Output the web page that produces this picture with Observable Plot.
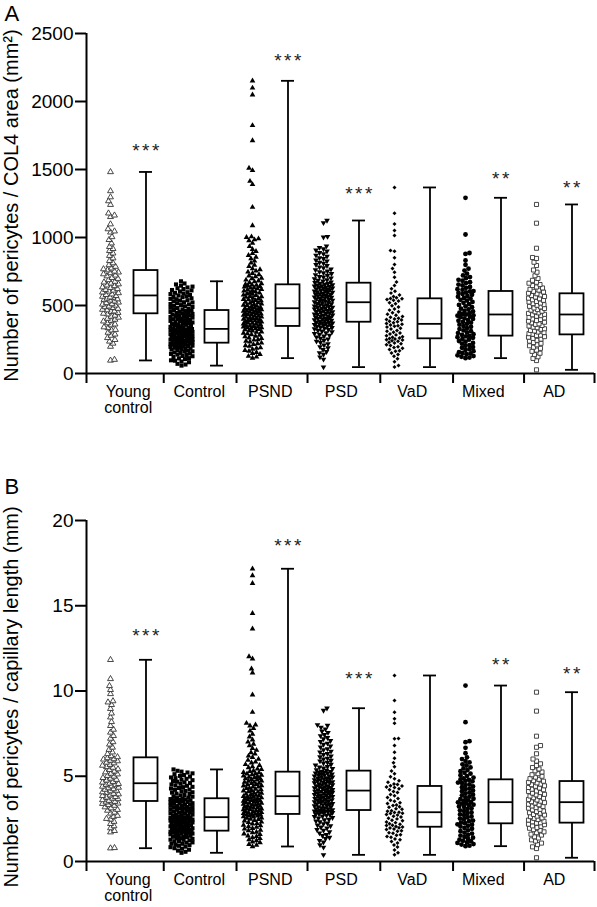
<!DOCTYPE html>
<html>
<head>
<meta charset="utf-8">
<script src="https://cdn.jsdelivr.net/npm/d3@7"></script>
<script src="https://cdn.jsdelivr.net/npm/@observablehq/plot@0.6"></script>
<style>
  html, body { margin: 0; padding: 0; background: #fff; }
  body { width: 597px; height: 907px; overflow: hidden; }
  #chart svg { display: block; }
</style>
</head>
<body>
<div id="chart"></div>
<script>
// ---------- categories ----------
const groups = ["Young\ncontrol", "Control", "PSND", "PSD", "VaD", "Mixed", "AD"];

// ---------- Panel A : pericytes / COL4 area (mm²) ----------
const yTicksA = [0, 500, 1000, 1500, 2000, 2500];
const ycA = [96, 102, 198, 221, 236, 248, 262, 279, 288, 301, 318, 322, 335, 341, 356, 362, 371, 384, 389, 397, 404, 412, 419, 427, 436,
  441, 447, 455, 458, 466, 470, 477, 483, 489, 494, 501, 508, 511, 519, 523, 531, 538, 543, 547, 552, 558, 561, 566, 571,
  579, 583, 592, 597, 604, 611, 616, 622, 631, 635, 644, 649, 657, 663, 671, 676, 688, 697, 704, 716, 722, 731, 739, 744, 751,
  760, 768, 774, 786, 798, 812, 829, 848, 866, 884, 902, 917, 932, 958, 983, 1004, 1038, 1046, 1062, 1098, 1152, 1163, 1178, 1241, 1268, 1297, 1342, 1482];
const controlA = [58, 66, 71, 83, 88, 94, 97, 106, 111, 113, 121, 127, 129, 136, 139, 144, 147, 152, 155, 161, 163, 168, 171, 176, 179, 183, 186, 189, 191, 196, 199, 202, 205, 208, 211, 213, 216, 218, 220, 222,
  225, 226, 230, 233, 234, 238, 241, 242, 246, 249, 250, 254, 257, 258, 262, 265, 266, 270, 273, 276, 278, 281, 282, 286, 289, 290, 294, 297, 298, 302, 305, 306, 310, 313, 316, 318, 319, 323, 324, 327,
  331, 334, 336, 341, 343, 348, 349, 353, 358, 360, 363, 368, 370, 375, 377, 382, 385, 387, 392, 394, 399, 400, 404, 409, 411, 416, 417, 421, 426, 428, 433, 434, 438, 443, 445, 448, 453, 454, 459, 462,
  467, 471, 474, 481, 483, 489, 494, 497, 503, 508, 511, 517, 522, 524, 531, 536, 539, 546, 549, 553, 561, 563, 568, 574, 577, 584, 588, 593, 598, 603, 611, 614, 621, 627, 633, 639, 646, 655, 662, 678];
const psndA = [113, 122, 127, 141, 148, 156, 164, 170, 179, 186, 190, 201, 205, 214, 220, 225, 233, 239, 247, 250, 259, 262, 271, 275, 282, 286, 293, 297, 304, 306, 313, 315, 322, 324, 330, 332, 337, 338, 343, 345,
  347, 353, 354, 360, 363, 365, 371, 372, 377, 380, 382, 388, 389, 394, 397, 399, 405, 406, 411, 414, 416, 422, 423, 429, 432, 433, 439, 442, 443, 449, 452, 454, 459, 462, 464, 469, 470, 475, 477, 479,
  483, 487, 492, 495, 501, 503, 509, 512, 517, 522, 524, 530, 535, 537, 544, 546, 553, 555, 561, 566, 568, 575, 578, 584, 586, 593, 595, 602, 607, 609, 615, 618, 624, 629, 631, 637, 640, 645, 649, 651,
  656, 661, 669, 675, 682, 688, 698, 702, 713, 718, 728, 737, 747, 754, 764, 771, 787, 797, 813, 828, 844, 856, 869, 883, 898, 913, 934, 958, 977, 984, 991, 1001, 1006, 1088, 1223, 1390, 1414, 1493, 1510, 1713, 1824, 2049, 2100, 2152];
const psdA = [47, 104, 121, 140, 152, 160, 175, 188, 196, 209, 218, 228, 237, 244, 253, 259, 268, 274, 281, 287, 294, 299, 306, 311, 317, 322, 328, 332, 337, 341, 346, 349, 353, 357, 360, 364, 367, 370, 373, 376,
  378, 384, 386, 390, 394, 397, 402, 404, 408, 412, 415, 420, 421, 427, 429, 434, 436, 441, 445, 447, 453, 454, 460, 462, 467, 469, 474, 478, 480, 486, 487, 493, 496, 498, 504, 505, 511, 513, 519, 521,
  526, 531, 533, 538, 540, 545, 549, 550, 556, 559, 562, 566, 569, 571, 576, 580, 583, 585, 590, 594, 597, 600, 605, 607, 611, 615, 616, 622, 625, 628, 632, 633, 639, 642, 644, 649, 651, 656, 660, 662,
  668, 671, 679, 684, 689, 696, 701, 709, 712, 721, 726, 734, 739, 748, 752, 762, 767, 777, 783, 793, 800, 810, 817, 827, 833, 844, 851, 862, 869, 880, 888, 899, 907, 916, 926, 937, 1002, 1007, 1108, 1125];
const vadA = [47, 58, 86, 108, 127, 139, 151, 163, 168, 177, 186, 191, 197, 206, 211, 219, 224, 229, 237, 241, 246, 249, 253, 257, 261, 267, 270, 278, 284, 291,
  297, 304, 311, 317, 327, 333, 341, 347, 351, 356, 362, 367, 373, 381, 385, 393, 397, 401, 406, 413, 419, 429, 435, 446, 454, 466, 475, 489, 498, 513,
  521, 533, 539, 545, 549, 552, 557, 567, 577, 591, 604, 623, 647, 673, 708, 745, 772, 801, 851, 899, 904, 1015, 1051, 1100, 1179, 1368];
const mixedA = [113, 117, 123, 128, 134, 142, 147, 151, 157, 164, 173, 179, 189, 194, 204, 209, 219, 225, 234, 239, 249, 254, 263, 267, 273, 276, 284, 289, 297, 302,
  311, 317, 327, 333, 343, 349, 359, 365, 374, 379, 388, 393, 401, 406, 414, 418, 425, 428, 434, 436, 443, 447, 456, 461, 471, 477, 488, 494, 504, 510,
  520, 526, 536, 542, 551, 556, 565, 570, 579, 584, 592, 596, 603, 606, 615, 620, 630, 636, 647, 654, 665, 671, 682, 689, 701, 709, 721, 734, 757, 771, 799, 831, 880, 886, 1022, 1292];
const adA = [27, 95, 111, 123, 139, 149, 163, 172, 185, 193, 204, 211, 222, 228, 238, 244, 253, 258, 267, 271, 279, 282, 289, 293, 301, 305, 313, 317, 325, 329,
  337, 341, 349, 353, 361, 365, 373, 377, 385, 389, 397, 401, 409, 413, 421, 425, 432, 435, 442, 446, 454, 458, 466, 470, 478, 482, 490, 494, 502, 506,
  514, 518, 526, 530, 538, 542, 550, 554, 562, 566, 574, 578, 586, 590, 599, 604, 613, 619, 629, 636, 647, 654, 664, 671, 685, 699, 719, 745, 761, 794, 818, 846, 853, 921, 1105, 1243];
const minA = [96, 58, 113, 47, 47, 113, 27];
const q1A = [439, 223, 346, 377, 255, 275, 284];
const medA = [574, 328, 480, 524, 365, 434, 434];
const q3A = [757, 463, 652, 664, 549, 603, 586];
const maxA = [1482, 678, 2152, 1125, 1368, 1292, 1243];
const starsA = ["***", "", "***", "***", "", "**", "**"];
const starYA = [1676, null, 2338, 1360, null, 1470, 1404];

// ---------- Panel B : pericytes / capillary length (mm) ----------
const yTicksB = [0, 5, 10, 15, 20];
const ycB = [0.78, 0.8, 1.72, 1.8, 1.96, 2.08, 2.21, 2.34, 2.47, 2.51, 2.63, 2.69, 2.82, 2.88, 2.99, 3.04, 3.13, 3.19, 3.28, 3.32, 3.39, 3.41, 3.47, 3.48, 3.51,
  3.57, 3.61, 3.67, 3.7, 3.76, 3.79, 3.85, 3.89, 3.95, 3.98, 4.04, 4.07, 4.13, 4.16, 4.22, 4.25, 4.31, 4.34, 4.4, 4.42, 4.49, 4.51, 4.56, 4.58,
  4.64, 4.68, 4.76, 4.8, 4.87, 4.91, 4.99, 5.03, 5.12, 5.16, 5.24, 5.29, 5.38, 5.42, 5.51, 5.55, 5.63, 5.68, 5.77, 5.81, 5.89, 5.92, 5.99, 6.01, 6.07,
  6.13, 6.19, 6.31, 6.41, 6.56, 6.69, 6.87, 7.01, 7.21, 7.37, 7.57, 7.74, 7.96, 8.19, 8.46, 8.69, 8.96, 9.19, 9.34, 9.41, 9.83, 10.07, 10.3, 10.71, 11.83];
const controlB = [0.51, 0.57, 0.64, 0.69, 0.75, 0.78, 0.84, 0.87, 0.92, 0.96, 0.98, 1.04, 1.05, 1.11, 1.12, 1.18, 1.19, 1.24, 1.27, 1.28, 1.33, 1.36, 1.37, 1.42, 1.45, 1.46, 1.51, 1.53, 1.54, 1.59, 1.61, 1.63, 1.64, 1.68, 1.7, 1.71, 1.74, 1.75, 1.76, 1.77,
  1.81, 1.82, 1.85, 1.87, 1.88, 1.91, 1.93, 1.95, 1.96, 2.0, 2.01, 2.04, 2.06, 2.08, 2.1, 2.12, 2.14, 2.15, 2.19, 2.2, 2.23, 2.25, 2.27, 2.29, 2.31, 2.33, 2.34, 2.38, 2.4, 2.42, 2.44, 2.46, 2.48, 2.5, 2.52, 2.53, 2.56, 2.57, 2.58, 2.59,
  2.62, 2.67, 2.68, 2.72, 2.75, 2.76, 2.81, 2.83, 2.86, 2.87, 2.92, 2.94, 2.97, 2.98, 3.03, 3.05, 3.08, 3.11, 3.12, 3.16, 3.19, 3.2, 3.25, 3.27, 3.28, 3.33, 3.34, 3.38, 3.41, 3.42, 3.47, 3.49, 3.52, 3.53, 3.58, 3.6, 3.61, 3.64, 3.66, 3.67,
  3.72, 3.74, 3.8, 3.82, 3.88, 3.9, 3.96, 3.98, 4.04, 4.06, 4.12, 4.14, 4.2, 4.22, 4.28, 4.31, 4.36, 4.38, 4.44, 4.46, 4.52, 4.56, 4.6, 4.64, 4.68, 4.72, 4.77, 4.8, 4.85, 4.89, 4.93, 4.98, 5.02, 5.07, 5.12, 5.17, 5.22, 5.27, 5.32, 5.4];
const psndB = [0.88, 0.96, 1.01, 1.11, 1.15, 1.23, 1.28, 1.35, 1.4, 1.47, 1.51, 1.59, 1.62, 1.7, 1.73, 1.81, 1.84, 1.91, 1.95, 2.01, 2.05, 2.11, 2.14, 2.21, 2.23, 2.3, 2.32, 2.39, 2.41, 2.47, 2.49, 2.55, 2.56, 2.62, 2.63, 2.68, 2.69, 2.73, 2.74, 2.75,
  2.78, 2.82, 2.83, 2.87, 2.88, 2.93, 2.94, 2.98, 2.99, 3.04, 3.05, 3.09, 3.1, 3.15, 3.16, 3.2, 3.21, 3.25, 3.27, 3.31, 3.32, 3.36, 3.37, 3.42, 3.43, 3.47, 3.48, 3.53, 3.54, 3.58, 3.59, 3.63, 3.64, 3.69, 3.7, 3.74, 3.75, 3.79, 3.8, 3.82,
  3.87, 3.89, 3.94, 3.96, 4.01, 4.03, 4.08, 4.1, 4.15, 4.17, 4.22, 4.24, 4.29, 4.31, 4.37, 4.38, 4.44, 4.45, 4.51, 4.52, 4.58, 4.59, 4.65, 4.66, 4.72, 4.73, 4.79, 4.81, 4.86, 4.88, 4.93, 4.95, 5.0, 5.02, 5.07, 5.09, 5.14, 5.16, 5.21, 5.23,
  5.29, 5.32, 5.4, 5.43, 5.51, 5.56, 5.64, 5.69, 5.79, 5.84, 5.94, 6.01, 6.11, 6.19, 6.31, 6.39, 6.53, 6.63, 6.79, 6.89, 7.01, 7.14, 7.31, 7.47, 7.66, 7.81, 7.96, 8.02, 8.11, 8.76, 9.78, 11.07, 11.3, 11.89, 12.02, 13.65, 14.56, 16.32, 16.77, 17.17];
const psdB = [0.39, 0.83, 0.97, 1.13, 1.23, 1.34, 1.41, 1.51, 1.57, 1.67, 1.73, 1.82, 1.87, 1.96, 2.01, 2.09, 2.13, 2.21, 2.25, 2.33, 2.37, 2.44, 2.47, 2.54, 2.57, 2.63, 2.65, 2.71, 2.73, 2.79, 2.8, 2.85, 2.86, 2.91, 2.92, 2.94, 2.95, 2.96, 2.97, 2.98,
  3.02, 3.03, 3.08, 3.09, 3.14, 3.15, 3.2, 3.21, 3.26, 3.27, 3.32, 3.33, 3.38, 3.39, 3.44, 3.45, 3.5, 3.51, 3.56, 3.57, 3.62, 3.63, 3.68, 3.69, 3.74, 3.75, 3.8, 3.81, 3.86, 3.87, 3.92, 3.93, 3.98, 3.99, 4.04, 4.05, 4.1, 4.11, 4.13, 4.15,
  4.2, 4.21, 4.26, 4.27, 4.32, 4.33, 4.37, 4.38, 4.43, 4.44, 4.49, 4.5, 4.55, 4.56, 4.61, 4.62, 4.66, 4.67, 4.72, 4.73, 4.78, 4.79, 4.83, 4.84, 4.89, 4.9, 4.95, 4.96, 5.01, 5.02, 5.07, 5.08, 5.12, 5.13, 5.18, 5.19, 5.23, 5.24, 5.27, 5.29,
  5.34, 5.37, 5.44, 5.47, 5.54, 5.57, 5.65, 5.69, 5.77, 5.81, 5.89, 5.93, 6.01, 6.05, 6.13, 6.18, 6.27, 6.32, 6.41, 6.46, 6.55, 6.61, 6.71, 6.77, 6.87, 6.93, 7.03, 7.09, 7.19, 7.26, 7.37, 7.44, 7.56, 7.64, 7.77, 7.87, 7.98, 8.02, 8.86, 8.99];
const vadB = [0.39, 0.51, 0.67, 0.85, 0.97, 1.09, 1.17, 1.28, 1.32, 1.42, 1.47, 1.54, 1.57, 1.66, 1.69, 1.77, 1.8, 1.87, 1.9, 1.96, 1.98, 2.03, 2.05, 2.11, 2.12, 2.19, 2.21, 2.28, 2.31, 2.39,
  2.42, 2.5, 2.54, 2.61, 2.65, 2.72, 2.75, 2.81, 2.83, 2.88, 2.89, 2.95, 2.98, 3.06, 3.1, 3.18, 3.21, 3.28, 3.32, 3.4, 3.45, 3.54, 3.59, 3.69, 3.75, 3.86, 3.93, 4.04, 4.11, 4.21,
  4.26, 4.34, 4.37, 4.43, 4.45, 4.51, 4.55, 4.65, 4.73, 4.86, 4.97, 5.15, 5.31, 5.56, 5.79, 6.06, 6.41, 6.8, 7.2, 7.22, 8.11, 8.37, 8.76, 9.44, 10.91];
const mixedB = [0.9, 0.93, 0.99, 1.02, 1.09, 1.12, 1.19, 1.21, 1.28, 1.32, 1.4, 1.44, 1.52, 1.56, 1.64, 1.69, 1.78, 1.83, 1.92, 1.97, 2.05, 2.09, 2.16, 2.18, 2.25, 2.28, 2.36, 2.4, 2.48, 2.52,
  2.6, 2.64, 2.72, 2.76, 2.84, 2.88, 2.96, 3.0, 3.08, 3.12, 3.2, 3.23, 3.3, 3.33, 3.39, 3.41, 3.47, 3.49, 3.55, 3.58, 3.65, 3.68, 3.76, 3.8, 3.88, 3.92, 4.0, 4.04, 4.12, 4.16,
  4.24, 4.28, 4.36, 4.4, 4.48, 4.52, 4.6, 4.63, 4.7, 4.73, 4.79, 4.81, 4.88, 4.92, 5.01, 5.06, 5.15, 5.2, 5.3, 5.36, 5.46, 5.52, 5.63, 5.7, 5.81, 5.89, 6.01, 6.11, 6.35, 6.67, 7.0, 7.06, 8.17, 10.32];
const adB = [0.22, 0.76, 0.86, 0.99, 1.08, 1.2, 1.27, 1.38, 1.45, 1.55, 1.6, 1.69, 1.74, 1.83, 1.87, 1.95, 1.99, 2.06, 2.09, 2.16, 2.19, 2.25, 2.27, 2.33, 2.36, 2.43, 2.46, 2.53, 2.56, 2.63,
  2.66, 2.73, 2.76, 2.83, 2.86, 2.93, 2.96, 3.03, 3.06, 3.13, 3.16, 3.23, 3.26, 3.33, 3.36, 3.43, 3.45, 3.51, 3.54, 3.61, 3.64, 3.71, 3.74, 3.81, 3.84, 3.91, 3.94, 4.01, 4.04, 4.11,
  4.14, 4.21, 4.24, 4.31, 4.34, 4.41, 4.44, 4.51, 4.54, 4.61, 4.64, 4.71, 4.74, 4.82, 4.86, 4.95, 5.0, 5.09, 5.15, 5.25, 5.32, 5.43, 5.51, 5.63, 5.73, 5.89, 6.01, 6.32, 6.7, 6.8, 7.35, 8.82, 9.93];
const minB = [0.78, 0.51, 0.88, 0.39, 0.39, 0.9, 0.22];
const q1B = [3.52, 1.78, 2.76, 2.99, 2.01, 2.21, 2.25];
const medB = [4.59, 2.6, 3.83, 4.16, 2.89, 3.48, 3.48];
const q3B = [6.08, 3.68, 5.24, 5.3, 4.4, 4.79, 4.69];
const maxB = [11.83, 5.4, 17.17, 8.99, 10.91, 10.32, 9.93];
const starsB = ["***", "", "***", "***", "", "**", "**"];
const starYB = [13.5, null, 18.8, 11.0, null, 11.85, 11.3];

// ---------- layout helpers ----------
const W = 597, ML = 86, MR = 3;
const xDomain = [-0.676, 13.634];
const pxPerX = (W - ML - MR) / (xDomain[1] - xDomain[0]);
const groupEdges = [xDomain[0], 1.5, 3.55, 5.55, 7.6, 9.65, 11.65, xDomain[1]];
const groupCenters = groups.map((_, i) => 2 * i + 0.5);

// custom downward triangle symbol
const triangleDown = {
  draw(context, size) {
    const s3 = Math.sqrt(3);
    const y = -Math.sqrt(size / (s3 * 3));
    context.moveTo(0, -y * 2);
    context.lineTo(-s3 * y, y);
    context.lineTo(s3 * y, y);
    context.closePath();
  }
};
const markerStyle = [
  {symbol: "triangle", r: 2.2, fill: "white", stroke: "#333", strokeWidth: 0.9, half: 8},
  {symbol: "square", r: 2.3, fill: "black", stroke: "none", strokeWidth: 0, half: 11},
  {symbol: "triangle", r: 2.1, fill: "black", stroke: "none", strokeWidth: 0, half: 9},
  {symbol: triangleDown, r: 2.1, fill: "black", stroke: "none", strokeWidth: 0, half: 9},
  {symbol: "diamond2", r: 1.8, fill: "black", stroke: "none", strokeWidth: 0, half: 8},
  {symbol: "circle", r: 2.4, fill: "black", stroke: "none", strokeWidth: 0, half: 8},
  {symbol: "square", r: 2.3, fill: "white", stroke: "#333", strokeWidth: 0.9, half: 8}
];

// deterministic beeswarm offsets (pixels)
function swarm(values, pxPerY, d, halfW) {
  const order = d3.range(values.length).sort((a, b) => values[a] - values[b]);
  const placed = [];
  const off = new Array(values.length).fill(0);
  const steps = [0];
  for (let s = 0.5; s <= halfW + 1e-9; s += 0.5) steps.push(s, -s);
  let n = 0;
  for (const i of order) {
    const y = values[i] * pxPerY;
    const sg = (n++ % 2) ? 1 : -1;
    const near = [];
    for (let k = placed.length - 1; k >= 0 && y - placed[k].y < d; k--) near.push(placed[k]);
    let best = 0, bestD = -1;
    for (const st of steps) {
      const c = st * sg;
      let m = Infinity;
      for (const q of near) { const dd = Math.hypot(c - q.x, y - q.y); if (dd < m) m = dd; }
      if (m >= d) { best = c; bestD = m; break; }
      if (m > bestD) { bestD = m; best = c; }
    }
    off[i] = best;
    placed.push({x: best, y});
  }
  return off;
}

function panel(cfg) {
  const {letter, yLabel, yTicks, ymax, series, mins, q1s, meds, q3s, maxs, stars, starY,
         height, marginTop, marginBottom, letterDy, labelDy} = cfg;
  const pxPerY = (height - marginTop - marginBottom) / ymax;
  const boxes = groups.map((g, i) => ({pos: 2 * i + 1, min: mins[i], q1: q1s[i], med: meds[i], q3: q3s[i], max: maxs[i]}));
  const starRows = groups.map((g, i) => ({x: 2 * i + 1, y: starY[i], s: stars[i]})).filter(d => d.s);
  const bw = 12 / pxPerX, cw = 6.5 / pxPerX;

  const dotMarks = series.map((vals, gi) => {
    const st = markerStyle[gi];
    const off = swarm(vals, pxPerY, 4.0, st.half);
    const rows = vals.map((v, j) => ({x: 2 * gi + off[j] / pxPerX, v}));
    return Plot.dot(rows, {x: "x", y: "v", symbol: st.symbol, r: st.r, fill: st.fill,
      stroke: st.stroke, strokeWidth: st.strokeWidth});
  });

  const svg = Plot.plot({
    width: W, height, marginTop, marginBottom, marginLeft: ML, marginRight: MR,
    style: {fontFamily: "'Liberation Sans', Arial, sans-serif", color: "black", background: "white"},
    x: {type: "linear", domain: xDomain},
    y: {domain: [0, ymax]},
    marks: [
      ...dotMarks,
      // whiskers
      Plot.ruleX(boxes, {x: "pos", y1: "q3", y2: "max", stroke: "black", strokeWidth: 1.8}),
      Plot.ruleX(boxes, {x: "pos", y1: "min", y2: "q1", stroke: "black", strokeWidth: 1.8}),
      Plot.ruleY(boxes, {y: "max", x1: d => d.pos - cw, x2: d => d.pos + cw, stroke: "black", strokeWidth: 1.8}),
      Plot.ruleY(boxes, {y: "min", x1: d => d.pos - cw, x2: d => d.pos + cw, stroke: "black", strokeWidth: 1.8}),
      // box
      Plot.rect(boxes, {x1: d => d.pos - bw, x2: d => d.pos + bw, y1: "q1", y2: "q3", fill: "white", stroke: "black", strokeWidth: 1.8}),
      Plot.ruleY(boxes, {y: "med", x1: d => d.pos - bw, x2: d => d.pos + bw, stroke: "black", strokeWidth: 1.8}),
      // significance
      Plot.text(starRows, {x: "x", y: "y", text: "s", fontSize: 19, textAnchor: "middle", lineAnchor: "middle", dy: 5, dx: 1, fill: "#222"}),
      // axes
      Plot.axisY({ticks: yTicks, tickSize: 11, tickPadding: 2, fontSize: 19, strokeWidth: 2, label: null, tickFormat: d => String(d)}),
      Plot.ruleX([xDomain[0]], {stroke: "black", strokeWidth: 2}),
      Plot.ruleY([0], {stroke: "black", strokeWidth: 2}),
      Plot.axisX({ticks: groupEdges, tickSize: 10, tickFormat: () => "", strokeWidth: 2, label: null}),
      Plot.axisX({ticks: groupCenters, tickSize: 0, tickPadding: 12, fontSize: 16, label: null,
        tickFormat: d => groups[Math.round((d - 0.5) / 2)]}),
      // y label
      Plot.text([yLabel], {text: d => d, frameAnchor: "left", rotate: -90, fontSize: 20, dx: -75, dy: labelDy,
        textAnchor: "middle", lineAnchor: "middle"}),
      // panel letter
      Plot.text([letter], {text: d => d, frameAnchor: "top-left", dx: -82, dy: letterDy, fontSize: 22,
        textAnchor: "start", lineAnchor: "bottom"})
    ]
  });
  // widen the spacing between significance asterisks
  d3.select(svg).selectAll("text").filter(function () { return /^\*+$/.test(this.textContent); })
    .attr("letter-spacing", "2.5px");
  return svg;
}

const chart = document.getElementById("chart");
chart.append(panel({
  letter: "A", yLabel: "Number of pericytes / COL4 area (mm²)", yTicks: yTicksA, ymax: 2500,
  series: [ycA, controlA, psndA, psdA, vadA, mixedA, adA],
  mins: minA, q1s: q1A, meds: medA, q3s: q3A, maxs: maxA, stars: starsA, starY: starYA,
  height: 440, marginTop: 33, marginBottom: 67, letterDy: -13, labelDy: 2
}));
chart.append(panel({
  letter: "B", yLabel: "Number of pericytes / capillary length (mm)", yTicks: yTicksB, ymax: 20,
  series: [ycB, controlB, psndB, psdB, vadB, mixedB, adB],
  mins: minB, q1s: q1B, meds: medB, q3s: q3B, maxs: maxB, stars: starsB, starY: starYB,
  height: 467, marginTop: 80, marginBottom: 46, letterDy: -27, labelDy: 6
}));
</script>
</body>
</html>
